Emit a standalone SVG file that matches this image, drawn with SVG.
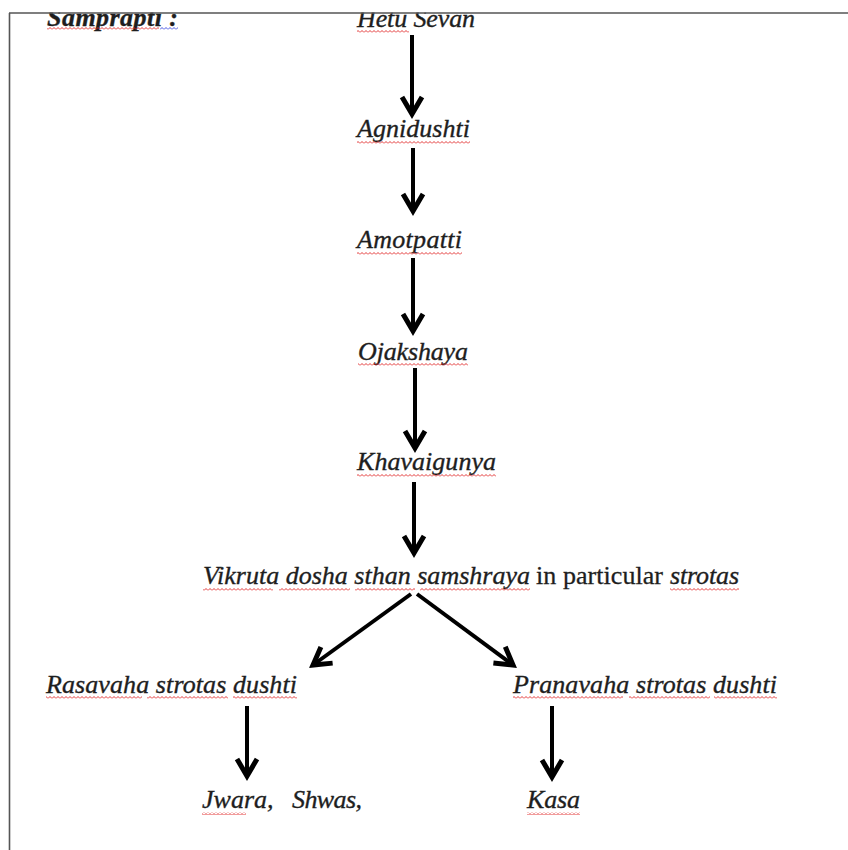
<svg xmlns="http://www.w3.org/2000/svg" width="848" height="850" viewBox="0 0 848 850">
<style>
.t{font-family:"Liberation Serif","Times New Roman",serif;font-size:26px;font-style:italic;fill:#1e1e1e;stroke:#1e1e1e;stroke-width:0.35}
.r{font-family:"Liberation Serif","Times New Roman",serif;font-size:26px;font-style:normal;fill:#1e1e1e;stroke:#1e1e1e;stroke-width:0.3}
.b{font-weight:bold}
.arr{stroke:#000;stroke-width:4;fill:none;marker-end:url(#ah)}
.wv{fill:url(#wavy)}
.wb{fill:url(#wavyb)}
</style>
<defs>
<marker id="ah" markerUnits="userSpaceOnUse" viewBox="-20 -13 24 26" refX="0" refY="0" markerWidth="24" markerHeight="26" orient="auto" overflow="visible">
<path d="M-17,-10 L0,0 L-17,10" fill="none" stroke="#000" stroke-width="5" stroke-linejoin="miter"/>
</marker>
<pattern id="wavy" patternUnits="userSpaceOnUse" width="4" height="3">
<polyline points="0,2.5 2,0.5 4,2.5" fill="none" stroke="#e02020" stroke-width="0.9"/>
</pattern>
<pattern id="wavyb" patternUnits="userSpaceOnUse" width="4" height="3">
<polyline points="0,2.5 2,0.5 4,2.5" fill="none" stroke="#3040e0" stroke-width="0.9"/>
</pattern>
</defs>
<rect width="848" height="850" fill="#fff"/>

<g id="title">
<text class="t b" x="47" y="26" textLength="131">Samprapti  :</text>
<rect class="wv" x="47" y="27" width="112" height="3"/>
<rect class="wb" x="160" y="27" width="18" height="3"/>
</g>

<g id="hetu-sevan">
<text class="t" x="357" y="27" textLength="118">Hetu Sevan</text>
<rect class="wv" x="357" y="30" width="52" height="3"/>
</g>

<rect x="0" y="0" width="848" height="12.5" fill="#fff"/>
<g id="border" stroke="#555" stroke-width="1.6" fill="none">
<line x1="9" y1="13" x2="848" y2="13"/>
<line x1="9.5" y1="13" x2="9.5" y2="850"/>
</g>

<g id="agnidushti">
<text class="t" x="357" y="137" textLength="113">Agnidushti</text>
<rect class="wv" x="357" y="141" width="113" height="3"/>
</g>

<g id="amotpatti">
<text class="t" x="357" y="248" textLength="105">Amotpatti</text>
<rect class="wv" x="357" y="252" width="105" height="3"/>
</g>

<g id="ojakshaya">
<text class="t" x="358" y="360" textLength="110">Ojakshaya</text>
<rect class="wv" x="358" y="363" width="110" height="3"/>
</g>

<g id="khavaigunya">
<text class="t" x="357" y="470" textLength="139">Khavaigunya</text>
<rect class="wv" x="357" y="474" width="139" height="3"/>
</g>

<g id="vikruta">
<text class="t" x="203" y="584" textLength="327">Vikruta dosha sthan samshraya</text>
<text class="r" x="536" y="584" textLength="127">in particular</text>
<text class="t" x="670" y="584" textLength="69">strotas</text>
<rect class="wv" x="203" y="588" width="70" height="3"/>
<rect class="wv" x="279" y="588" width="71" height="3"/>
<rect class="wv" x="355" y="588" width="60" height="3"/>
<rect class="wv" x="420" y="588" width="110" height="3"/>
<rect class="wv" x="670" y="588" width="69" height="3"/>
</g>

<g id="rasavaha">
<text class="t" x="46" y="693" textLength="251">Rasavaha strotas dushti</text>
<rect class="wv" x="46" y="696" width="96" height="3"/>
<rect class="wv" x="147" y="696" width="81" height="3"/>
<rect class="wv" x="233" y="696" width="64" height="3"/>
</g>

<g id="pranavaha">
<text class="t" x="513" y="693" textLength="264">Pranavaha strotas dushti</text>
<rect class="wv" x="513" y="696" width="110" height="3"/>
<rect class="wv" x="629" y="696" width="81" height="3"/>
<rect class="wv" x="714" y="696" width="63" height="3"/>
</g>

<g id="jwara-shwas">
<text class="t" x="202" y="808">Jwara,</text>
<text class="t" x="292" y="808" textLength="70">Shwas,</text>
<rect class="wv" x="202" y="812" width="44" height="3"/>
</g>

<g id="kasa">
<text class="t" x="527" y="808" textLength="53">Kasa</text>
<rect class="wv" x="527" y="812" width="53" height="3"/>
</g>

<g id="connectors">
<line class="arr" x1="412" y1="35" x2="412" y2="114"/>
<line class="arr" x1="413" y1="148" x2="413" y2="211"/>
<line class="arr" x1="413" y1="258" x2="413" y2="331"/>
<line class="arr" x1="415" y1="368" x2="415" y2="448"/>
<line class="arr" x1="414" y1="482" x2="414" y2="553"/>
<line class="arr" x1="411" y1="594" x2="313" y2="665"/>
<line class="arr" x1="417" y1="594" x2="513" y2="665"/>
<line class="arr" x1="247" y1="706" x2="247" y2="776"/>
<line class="arr" x1="552" y1="706" x2="552" y2="777"/>
</g>
</svg>
